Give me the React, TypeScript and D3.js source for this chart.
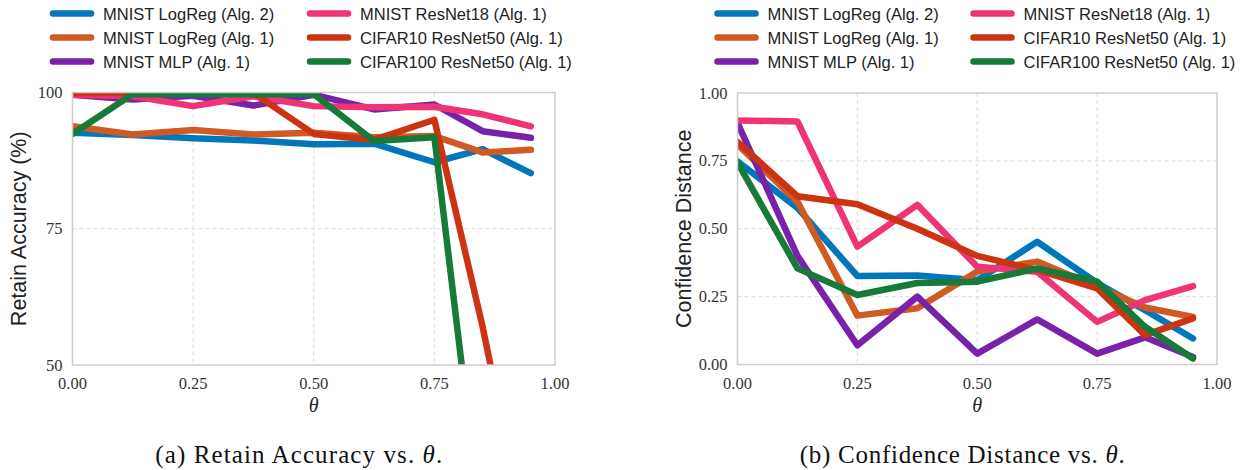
import * as React from 'react';
import { scaleLinear, line } from 'd3';

// theta values used in both panels
const theta = [0, 0.125, 0.25, 0.375, 0.5, 0.625, 0.75, 0.85, 0.95];

const seriesNames = [
  'MNIST LogReg (Alg. 2)',
  'MNIST LogReg (Alg. 1)',
  'MNIST MLP (Alg. 1)',
  'MNIST ResNet18 (Alg. 1)',
  'CIFAR10 ResNet50 (Alg. 1)',
  'CIFAR100 ResNet50 (Alg. 1)',
];
const seriesColors = ['#0077bb', '#d05a24', '#7822aa', '#ee3377', '#cc3311', '#167a38'];

// (a) retain accuracy (%)
const retainLogReg2 = [92.6, 92.2, 91.6, 91.2, 90.5, 90.6, 87.2, 89.6, 85.2];
const retainLogReg1 = [93.8, 92.3, 93.1, 92.3, 92.6, 91.8, 92.0, 89.0, 89.5];
const retainMLP = [99.6, 98.7, 99.4, 97.6, 99.6, 96.9, 97.8, 92.9, 91.7];
const retainResNet18 = [99.6, 99.3, 97.5, 99.3, 97.5, 97.3, 97.4, 96.0, 93.8];
const retainCifar10 = [99.9, 99.9, 99.9, 99.9, 92.4, 91.3, 95.0, 57, 14];
const retainCifar100 = [92.4, 99.7, 99.7, 99.7, 99.7, 91.1, 91.8, 18, 10];

// (b) confidence distance
const confLogReg2 = [0.748, 0.577, 0.326, 0.328, 0.31, 0.452, 0.3, 0.2, 0.096];
const confLogReg1 = [0.81, 0.6, 0.18, 0.207, 0.342, 0.379, 0.286, 0.21, 0.175];
const confMLP = [0.89, 0.4, 0.071, 0.25, 0.04, 0.166, 0.04, 0.1, 0.028];
const confResNet18 = [0.899, 0.895, 0.434, 0.588, 0.36, 0.342, 0.157, 0.237, 0.289];
const confCifar10 = [0.82, 0.62, 0.59, 0.5, 0.4, 0.348, 0.28, 0.108, 0.17];
const confCifar100 = [0.744, 0.354, 0.256, 0.3, 0.305, 0.354, 0.305, 0.139, 0.022];

const xTicks = [0, 0.25, 0.5, 0.75, 1];
const retainTicks = [50, 75, 100];
const confTicks = [0, 0.25, 0.5, 0.75, 1];

const SANS = '"Liberation Sans", Arial, sans-serif';
const SERIF = '"Liberation Serif", "Times New Roman", serif';

interface PanelProps {
  id: string;
  left: number;
  right: number;
  top: number;
  bottom: number;
  yDomain: [number, number];
  yTicks: number[];
  yFormat: (v: number) => string;
  yLabel: string;
  series: number[][];
  legendX: number[];
  caption: string;
  captionLetter: string;
  captionWidth: number;
}

const Panel = (p: PanelProps) => {
  const x = scaleLinear().domain([0, 1]).range([p.left, p.right]);
  const y = scaleLinear().domain(p.yDomain).range([p.bottom, p.top]);
  const path = line<number>()
    .x((d, i) => x(theta[i]))
    .y(d => y(d));
  const midX = (p.left + p.right) / 2;
  const midY = (p.top + p.bottom) / 2;
  const legendRows = [13.5, 37.5, 61.5];

  return (
    <g>
      <defs>
        <clipPath id={`clip-${p.id}`}>
          <rect x={p.left} y={p.top} width={p.right - p.left} height={p.bottom - p.top} />
        </clipPath>
      </defs>

      {/* grid */}
      {xTicks.slice(1, -1).map(t => (
        <line key={'gx' + t} x1={x(t)} x2={x(t)} y1={p.top} y2={p.bottom}
          stroke="#dcdcdc" strokeWidth={1} strokeDasharray="4,3" />
      ))}
      {p.yTicks.slice(1, -1).map(t => (
        <line key={'gy' + t} x1={p.left} x2={p.right} y1={y(t)} y2={y(t)}
          stroke="#dcdcdc" strokeWidth={1} strokeDasharray="4,3" />
      ))}

      {/* lines */}
      <g clipPath={`url(#clip-${p.id})`}>
        {p.series.map((s, i) => (
          <path key={i} d={path(s) || ''} fill="none" stroke={seriesColors[i]}
            strokeWidth={6.5} strokeLinecap="round" strokeLinejoin="round" />
        ))}
      </g>

      {/* frame */}
      <rect x={p.left} y={p.top} width={p.right - p.left} height={p.bottom - p.top}
        fill="none" stroke="#cccccc" strokeWidth={1.5} />

      {/* ticks */}
      {xTicks.map(t => (
        <text key={'tx' + t} x={x(t)} y={p.bottom + 24} textAnchor="middle"
          fontFamily={SERIF} fontSize={16.5} fill="#333">{t.toFixed(2)}</text>
      ))}
      {p.yTicks.map(t => (
        <text key={'ty' + t} x={p.left - 10} y={y(t) + 5.5} textAnchor="end"
          fontFamily={SERIF} fontSize={16.5} fill="#333">{p.yFormat(t)}</text>
      ))}

      {/* axis titles */}
      <text x={midX} y={p.bottom + 47} textAnchor="middle" fontFamily={SERIF}
        fontStyle="italic" fontSize={20} fill="#222">θ</text>
      <text transform={`translate(${p.left - 47},${midY}) rotate(-90)`} textAnchor="middle"
        fontFamily={SANS} fontSize={21.5} fill="#222">{p.yLabel}</text>

      {/* legend */}
      {seriesNames.map((name, i) => {
        const col = Math.floor(i / 3);
        const row = i % 3;
        const lx = p.legendX[col];
        const ly = legendRows[row];
        return (
          <g key={name}>
            <line x1={lx} x2={lx + 38} y1={ly} y2={ly} stroke={seriesColors[i]}
              strokeWidth={6.5} strokeLinecap="round" />
            <text x={lx + 50} y={ly + 6} fontFamily={SANS} fontSize={16.5} fill="#222">{name}</text>
          </g>
        );
      })}

      {/* caption */}
      <text x={midX - 15} y={463} textAnchor="middle" fontFamily={SERIF} fontSize={25}
        fill="#111" textLength={p.captionWidth}>
        {p.captionLetter} {p.caption} vs. <tspan fontStyle="italic">θ</tspan>.
      </text>
    </g>
  );
};

export default function App() {
  return (
    <svg width={1240} height={470} style={{ position: 'absolute', left: 0, top: 0, background: '#fff' }}>
      <Panel
        id="a"
        left={72.5} right={555} top={92.5} bottom={365}
        yDomain={[50, 100]}
        yTicks={retainTicks}
        yFormat={v => String(v)}
        yLabel="Retain Accuracy (%)"
        series={[retainLogReg2, retainLogReg1, retainMLP, retainResNet18, retainCifar10, retainCifar100]}
        legendX={[53, 310]}
        captionLetter="(a)"
        caption="Retain Accuracy"
        captionWidth={287}
      />
      <Panel
        id="b"
        left={737.5} right={1217} top={93} bottom={364.5}
        yDomain={[0, 1]}
        yTicks={confTicks}
        yFormat={v => v.toFixed(2)}
        yLabel="Confidence Distance"
        series={[confLogReg2, confLogReg1, confMLP, confResNet18, confCifar10, confCifar100]}
        legendX={[717.5, 973.5]}
        captionLetter="(b)"
        caption="Confidence Distance"
        captionWidth={325}
      />
    </svg>
  );
}
